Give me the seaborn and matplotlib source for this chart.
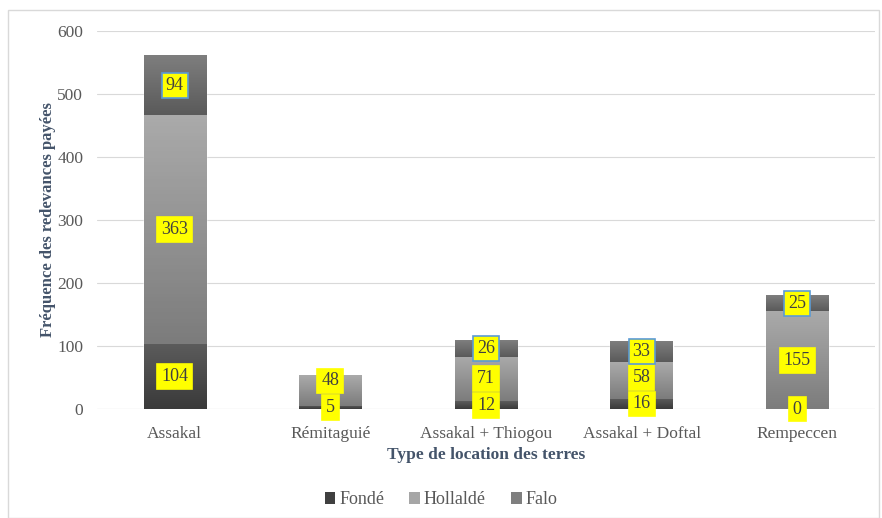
import matplotlib
matplotlib.use("Agg")
import matplotlib.pyplot as plt
import numpy as np
import pandas as pd
import seaborn as sns
from matplotlib.colors import LinearSegmentedColormap
from matplotlib.patches import Patch, Rectangle


CATEGORIES = ["Assakal", "Rémitaguié", "Assakal + Thiogou", "Assakal + Doftal", "Rempeccen"]
FONDE = [104, 5, 12, 16, 0]
HOLLALDE = [363, 48, 71, 58, 155]
FALO = [94, 0, 26, 33, 25]

SERIES = ["Fondé", "Hollaldé", "Falo"]
LEGEND_COLORS = {"Fondé": "#404040", "Hollaldé": "#a6a6a6", "Falo": "#7f7f7f"}
GRADIENTS = {
    "Fondé": ("#5c5c5c", "#3a3a3a"),
    "Hollaldé": ("#aaaaaa", "#7c7c7c"),
    "Falo": ("#7e7e7e", "#5a5a5a"),
}
TEXT_COLOR = "#595959"
TITLE_COLOR = "#44546a"
BAR_WIDTH = 0.4


def main():
    sns.set_theme(style="white")
    plt.rcParams["font.family"] = ["Liberation Serif", "DejaVu Serif"]

    df = pd.DataFrame({"cat": CATEGORIES, "Fondé": FONDE, "Hollaldé": HOLLALDE, "Falo": FALO})
    df["bottom_Fondé"] = 0
    df["bottom_Hollaldé"] = df["Fondé"]
    df["bottom_Falo"] = df["Fondé"] + df["Hollaldé"]
    df["top_Fondé"] = df["Fondé"]
    df["top_Hollaldé"] = df["Fondé"] + df["Hollaldé"]
    df["top_Falo"] = df["top_Hollaldé"] + df["Falo"]

    fig = plt.figure(figsize=(8.82, 5.18), dpi=100)
    ax = fig.add_axes([0.11, 0.2104, 0.882, 0.7296])

    # stacked bars drawn as cumulative layers, largest first
    for name in ["Falo", "Hollaldé", "Fondé"]:
        sns.barplot(data=df, x="cat", y=f"top_{name}", color=LEGEND_COLORS[name],
                    width=BAR_WIDTH, saturation=1, ax=ax, zorder=2)

    # gradient fill on each segment
    for name in SERIES:
        top_c, bot_c = GRADIENTS[name]
        cmap = LinearSegmentedColormap.from_list(name, [bot_c, top_c])
        grad = np.linspace(0, 1, 64).reshape(-1, 1)
        for i, row in df.iterrows():
            lo, hi = row[f"bottom_{name}"], row[f"top_{name}"]
            if hi - lo <= 0:
                continue
            ax.imshow(grad, cmap=cmap, origin="lower", aspect="auto",
                      extent=[i - BAR_WIDTH / 2, i + BAR_WIDTH / 2, lo, hi], zorder=3)

    # value labels in yellow boxes (pushed up when they would overlap the one below)
    min_gap = 42
    for i, row in df.iterrows():
        prev_y = None
        for name in SERIES:
            value = row[name]
            if name == "Falo" and value == 0:
                continue
            y = (row[f"bottom_{name}"] + row[f"top_{name}"]) / 2
            if prev_y is not None and y - prev_y < min_gap:
                y = prev_y + min_gap
            prev_y = y
            edge = "#5b9bd5" if name == "Falo" else "yellow"
            ax.text(i, y, f"{value}", ha="center", va="center", fontsize=13,
                    color="#404040", zorder=5,
                    bbox=dict(boxstyle="square,pad=0.22", facecolor="yellow",
                              edgecolor=edge, linewidth=1.2))

    ax.set_xlim(-0.5, len(CATEGORIES) - 0.5)
    ax.set_ylim(0, 600)
    ax.set_yticks(range(0, 601, 100))
    ax.yaxis.grid(True, color="#d9d9d9", linewidth=0.8, zorder=0)
    ax.set_axisbelow(True)
    for spine in ax.spines.values():
        spine.set_visible(False)
    ax.axhline(0, color="#d9d9d9", linewidth=0.8, zorder=1)
    ax.tick_params(axis="both", length=0, labelsize=12.5, colors=TEXT_COLOR)
    ax.tick_params(axis="y", pad=10)
    ax.tick_params(axis="x", pad=12)

    ax.set_xlabel("Type de location des terres", fontsize=12.5, fontweight="bold",
                  color=TITLE_COLOR, labelpad=4)
    ax.set_ylabel("Fréquence des redevances payées", fontsize=12, fontweight="bold",
                  color=TITLE_COLOR, labelpad=1)

    handles = [Patch(facecolor=LEGEND_COLORS[s], edgecolor="none") for s in SERIES]
    fig.legend(handles, SERIES, loc="center", bbox_to_anchor=(0.5, 0.035), ncol=3,
               frameon=False, fontsize=13, handlelength=0.6, handleheight=0.6,
               handletextpad=0.2, columnspacing=1.4, labelcolor=TEXT_COLOR)

    fig.patches.append(Rectangle((0.009, 0.0), 0.988, 0.98, transform=fig.transFigure,
                                 fill=False, edgecolor="#d9d9d9", linewidth=1.0))

    fig.savefig("out.png", dpi=100)
    plt.close(fig)


if __name__ == "__main__":
    main()
